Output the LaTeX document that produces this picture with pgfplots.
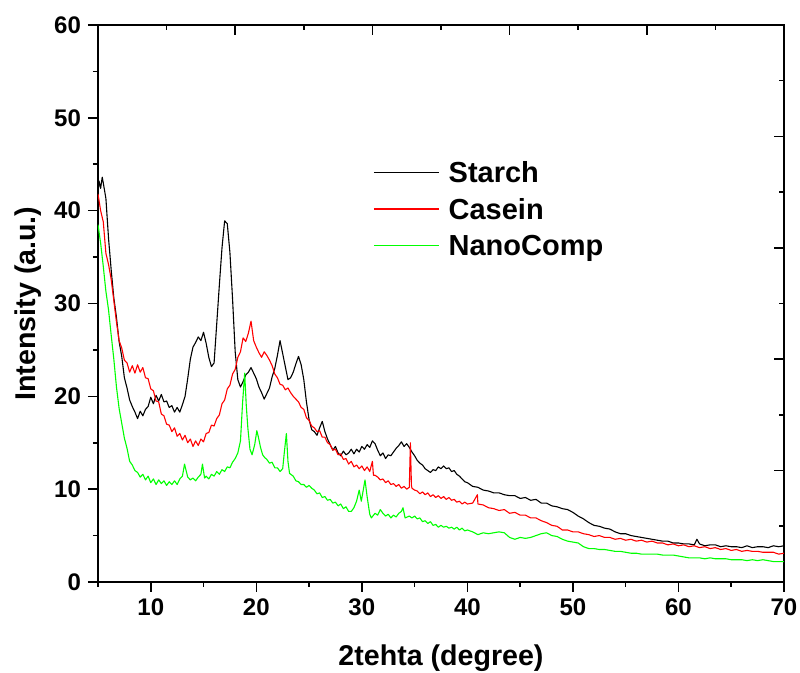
\documentclass[border=0pt]{standalone}
\usepackage{fontspec}
\setmainfont{Liberation Sans}
\usepackage{pgfplots}
\pgfplotsset{compat=1.18}
\definecolor{ored}{RGB}{255,0,0}
\definecolor{ogreen}{RGB}{0,255,0}

\begin{document}
\begin{tikzpicture}
\useasboundingbox (-49pt,-45.5pt) rectangle (351pt,291pt);
% mirror axis: top and right ticks point inward
\begin{axis}[
  scale only axis, width=343pt, height=278.5pt,
  xmin=5, xmax=70, ymin=0, ymax=60,
  xtick={18,31,44,57}, minor xtick={11.5,24.5,37.5,50.5,63.5},
  ytick={12,24,36,48}, minor ytick={6,18,30,42,54},
  xtick pos=right, ytick pos=right,
  xticklabels={}, yticklabels={},
  tick align=inside,
  major tick length=5pt, minor tick length=2.5pt,
  axis line style={line width=0.8pt},
  every tick/.style={black, line width=0.8pt},
]
\end{axis}
\begin{axis}[
  scale only axis, width=343pt, height=278.5pt,
  xmin=5, xmax=70, ymin=0, ymax=60,
  xtick={10,20,...,70}, minor xtick={5,15,...,65},
  ytick={0,10,...,60}, minor ytick={5,15,...,55},
  xtick pos=left, ytick pos=left,
  tick align=outside,
  major tick length=5pt, minor tick length=2.5pt,
  axis line style={line width=0.8pt},
  major tick style={black, line width=0.8pt},
  minor tick style={black, line width=0.8pt},
  /pgf/number format/assume math mode=true,
  ticklabel style={font=\bfseries\fontsize{12}{14}\selectfont},
  xlabel={2tehta (degree)}, ylabel={Intensity (a.u.)},
  label style={font=\bfseries\fontsize{14.3}{16}\selectfont, inner sep=0pt},
  xlabel style={at={(axis description cs:0.5,0)}, anchor=center, yshift=-38pt},
  ylabel style={at={(axis description cs:0,0.5)}, anchor=center, yshift=35pt},
  legend style={draw=none, fill=none, inner sep=0pt, outer sep=0pt,
    at={(axis description cs:0.401,0.7645)}, anchor=north west,
    font=\bfseries\fontsize{14.5}{16}\selectfont,
    nodes={inner sep=0pt, text height=13.4pt, text depth=3pt},
    row sep=1.85pt, column sep=4.5pt},
  legend cell align=left,
  legend image code/.code={\draw[#1, line width=0.8pt] (0pt,0pt) -- (32.5pt,0pt);},
]
\addplot[black, line width=0.55pt, line join=round] table {
x y
5.00 42.0
5.10 43.2
5.25 42.4
5.40 43.6
5.50 43.0
5.75 41.3
6.00 37.0
6.25 33.6
6.50 30.6
6.75 28.5
7.00 25.9
7.25 24.3
7.50 22.0
7.75 20.9
8.00 19.6
8.25 18.9
8.50 18.3
8.75 17.6
9.00 18.4
9.25 17.9
9.50 18.6
9.75 18.9
10.00 19.9
10.25 19.2
10.50 20.1
10.75 19.5
11.00 20.2
11.25 19.4
11.50 19.5
11.75 18.8
12.00 19.0
12.25 18.3
12.50 18.8
12.75 18.3
13.00 19.1
13.25 20.0
13.50 21.9
13.75 24.0
14.00 25.3
14.25 25.8
14.50 26.4
14.75 26.0
15.00 26.9
15.25 25.7
15.50 24.2
15.75 23.2
16.00 23.6
16.25 27.8
16.50 32.0
16.75 36.0
17.00 38.9
17.25 38.6
17.50 35.5
17.75 30.5
18.00 24.8
18.25 21.8
18.50 21.0
18.75 21.6
19.00 22.3
19.25 22.6
19.50 23.1
19.75 22.5
20.00 21.9
20.25 21.0
20.50 20.4
20.75 19.7
21.00 20.3
21.25 20.9
21.50 22.1
21.75 23.0
22.00 24.4
22.25 26.0
22.50 24.6
22.75 23.2
23.00 21.8
23.25 22.0
23.50 22.6
23.75 23.5
24.00 24.3
24.25 23.4
24.50 21.8
24.75 19.4
25.00 17.5
25.25 16.4
25.50 16.2
25.75 15.8
26.00 16.6
26.25 17.3
26.50 16.2
26.75 15.4
27.00 14.8
27.25 14.2
27.50 14.6
27.75 13.9
28.00 13.6
28.25 14.1
28.50 13.7
28.75 13.9
29.00 14.3
29.25 13.8
29.50 14.3
29.75 14.0
30.00 14.6
30.25 14.3
30.50 14.8
30.75 14.5
31.00 15.2
31.25 14.9
31.50 14.2
31.75 13.6
32.00 13.9
32.25 13.3
32.50 13.7
32.75 13.6
33.00 14.0
33.25 14.4
33.50 14.7
33.75 15.1
34.00 14.6
34.25 14.9
34.50 14.5
34.75 14.0
35.00 13.6
35.25 13.1
35.50 12.8
35.75 12.6
36.00 12.2
36.25 12.0
36.50 11.8
36.75 12.1
37.00 12.0
37.25 12.4
37.50 12.2
37.75 12.5
38.00 12.2
38.25 12.3
38.50 11.9
38.75 12.0
39.00 11.6
39.25 11.4
39.50 11.1
39.75 10.8
40.00 10.7
40.50 10.3
41.00 10.2
41.50 9.9
42.00 9.8
42.50 9.6
43.00 9.6
43.50 9.4
44.00 9.3
44.50 9.3
45.00 9.0
45.50 9.1
46.00 8.8
46.50 8.9
47.00 8.5
47.50 8.5
48.00 8.2
48.50 8.1
49.00 7.9
49.50 7.8
50.00 7.5
50.50 7.1
51.00 6.8
51.50 6.4
52.00 6.1
52.50 6.0
53.00 5.8
53.50 5.7
54.00 5.4
54.50 5.2
55.00 5.2
55.50 5.0
56.00 4.9
56.50 4.8
57.00 4.7
57.50 4.6
58.00 4.5
58.50 4.4
59.00 4.4
59.50 4.2
60.00 4.2
60.50 4.1
61.00 4.1
61.50 4.0
61.75 4.6
62.00 4.1
62.50 3.9
63.00 4.0
63.50 4.0
64.00 3.8
64.50 3.9
65.00 3.8
65.50 3.8
66.00 3.7
66.50 3.9
67.00 3.7
67.50 3.8
68.00 3.8
68.50 3.7
69.00 3.9
69.50 3.8
70.00 3.9
};
\addlegendentry{Starch}
\addplot[ored, line width=0.55pt, line join=round] table {
x y
5.00 41.8
5.25 40.0
5.50 38.8
5.75 35.4
6.00 34.2
6.25 32.6
6.50 30.3
6.75 28.0
7.00 26.0
7.25 25.2
7.50 23.9
7.75 23.6
8.00 22.6
8.25 23.3
8.50 22.5
8.75 23.4
9.00 22.6
9.25 23.1
9.50 22.0
9.75 21.9
10.00 20.8
10.25 20.6
10.50 19.5
10.75 19.4
11.00 18.1
11.25 17.9
11.50 17.0
11.75 16.9
12.00 16.2
12.25 16.6
12.50 15.7
12.75 16.0
13.00 15.3
13.25 15.8
13.50 15.0
13.75 15.4
14.00 14.6
14.25 15.2
14.50 14.7
14.75 15.4
15.00 15.1
15.25 16.0
15.50 16.1
15.75 16.9
16.00 16.8
16.25 17.6
16.50 18.0
16.75 19.2
17.00 19.6
17.25 20.8
17.50 21.2
17.75 22.4
18.00 22.9
18.25 24.2
18.50 24.8
18.75 26.3
19.00 25.9
19.25 26.8
19.50 28.1
19.75 26.0
20.00 25.3
20.25 24.7
20.50 24.2
20.75 24.8
21.00 24.4
21.25 23.9
21.50 23.3
21.75 22.4
22.00 22.0
22.25 21.3
22.50 21.2
22.75 20.7
23.00 20.9
23.25 20.4
23.50 20.0
23.75 19.7
24.00 19.4
24.25 18.8
24.50 18.6
24.75 17.7
25.00 17.4
25.25 16.8
25.50 16.6
25.75 16.2
26.00 16.3
26.25 15.6
26.50 15.6
26.75 15.0
27.00 14.8
27.25 14.2
27.50 14.3
27.75 13.7
28.00 13.8
28.25 13.2
28.50 13.3
28.75 12.7
29.00 13.0
29.25 12.4
29.50 12.6
29.75 12.2
30.00 12.5
30.25 12.0
30.50 12.4
30.75 11.9
31.00 13.0
31.10 11.5
31.25 11.5
31.50 11.3
31.75 11.0
32.00 11.1
32.25 10.7
32.50 10.9
32.75 10.5
33.00 10.6
33.25 10.3
33.50 10.5
33.75 10.1
34.00 10.3
34.25 10.0
34.50 10.2
34.60 15.0
34.70 10.4
34.75 10.1
35.00 9.9
35.25 9.8
35.50 9.5
35.75 9.7
36.00 9.4
36.25 9.6
36.50 9.2
36.75 9.4
37.00 9.1
37.25 9.3
37.50 9.0
37.75 9.2
38.00 8.9
38.25 9.1
38.50 8.8
38.75 8.9
39.00 8.6
39.25 8.7
39.50 8.4
39.75 8.6
40.00 8.4
40.50 8.5
40.95 9.4
41.00 8.4
41.50 8.3
42.00 8.0
42.50 7.9
43.00 7.7
43.50 7.8
44.00 7.4
44.50 7.5
45.00 7.2
45.50 7.2
46.00 6.9
46.50 6.9
47.00 6.6
47.50 6.4
48.00 6.1
48.50 6.0
49.00 5.6
49.50 5.6
50.00 5.4
50.50 5.4
51.00 5.2
51.50 5.1
52.00 4.9
52.50 5.0
53.00 4.8
53.50 4.8
54.00 4.6
54.50 4.7
55.00 4.5
55.50 4.6
56.00 4.4
56.50 4.5
57.00 4.3
57.50 4.4
58.00 4.2
58.50 4.2
59.00 4.0
59.50 4.1
60.00 3.9
60.50 4.0
61.00 3.8
61.50 3.9
62.00 3.7
62.50 3.8
63.00 3.6
63.50 3.7
64.00 3.5
64.50 3.6
65.00 3.4
65.50 3.5
66.00 3.3
66.50 3.4
67.00 3.3
67.50 3.3
68.00 3.2
68.50 3.2
69.00 3.2
69.50 3.0
70.00 3.1
};
\addlegendentry{Casein}
\addplot[ogreen, line width=0.55pt, line join=round] table {
x y
5.00 38.5
5.25 36.5
5.50 34.0
5.75 31.3
6.00 29.3
6.25 26.6
6.50 24.0
6.75 21.0
7.00 18.7
7.25 17.1
7.50 15.5
7.75 14.4
8.00 13.0
8.25 12.6
8.50 12.0
8.75 11.8
9.00 11.3
9.25 11.6
9.50 11.0
9.75 11.4
10.00 10.7
10.25 11.1
10.50 10.5
10.75 11.0
11.00 10.6
11.25 10.9
11.50 10.4
11.75 10.8
12.00 10.5
12.25 10.9
12.50 10.5
12.75 11.1
13.00 11.4
13.20 12.7
13.50 11.3
13.75 11.0
14.00 11.2
14.25 10.9
14.50 11.3
14.75 11.6
14.90 12.7
15.10 11.2
15.25 11.4
15.50 11.1
15.75 11.6
16.00 11.4
16.25 11.9
16.50 11.6
16.75 12.1
17.00 11.9
17.25 12.4
17.50 12.3
17.75 12.9
18.00 13.3
18.25 13.9
18.50 15.2
18.70 19.3
18.90 22.5
19.05 19.0
19.20 16.6
19.40 14.3
19.60 13.7
19.85 14.8
20.05 16.3
20.20 15.6
20.40 14.5
20.60 13.7
20.80 13.4
21.00 13.2
21.25 12.8
21.50 12.9
21.75 12.3
22.00 12.3
22.25 11.9
22.50 12.2
22.65 13.9
22.85 16.0
23.00 13.0
23.15 11.7
23.50 11.4
23.75 10.9
24.00 10.8
24.25 10.5
24.50 10.5
24.75 10.2
25.00 10.4
25.25 10.1
25.50 9.9
25.75 9.5
26.00 9.6
26.25 9.1
26.50 9.2
26.75 8.8
27.00 8.9
27.25 8.5
27.50 8.6
27.75 8.2
28.00 8.4
28.25 7.9
28.50 8.1
28.75 7.6
29.00 7.6
29.25 8.0
29.50 8.7
29.75 9.9
29.95 8.7
30.15 10.0
30.30 11.0
30.50 9.2
30.75 7.3
30.90 6.9
31.25 7.4
31.50 7.2
31.75 7.8
32.00 7.4
32.25 7.1
32.50 7.3
32.75 6.9
33.00 7.2
33.25 7.0
33.50 7.4
33.75 7.6
33.90 8.0
34.10 6.9
34.50 7.1
34.75 6.9
35.00 7.1
35.25 6.8
35.50 6.9
35.75 6.5
36.00 6.6
36.25 6.3
36.50 6.5
36.75 6.1
37.00 6.2
37.25 5.9
37.50 6.1
37.75 5.9
38.00 6.0
38.25 5.8
38.50 5.9
38.75 5.7
39.00 5.9
39.25 5.6
39.50 5.8
39.75 5.5
40.00 5.6
40.50 5.4
41.00 5.1
41.50 5.3
42.00 5.2
42.50 5.3
43.00 5.4
43.50 5.3
44.00 4.8
44.50 4.6
45.00 4.8
45.50 4.7
46.00 4.8
46.50 5.0
47.00 5.2
47.50 5.3
48.00 5.0
48.50 4.9
49.00 4.6
49.50 4.4
50.00 4.3
50.50 4.2
51.00 3.8
51.50 3.6
52.00 3.6
52.50 3.5
53.00 3.5
53.50 3.4
54.00 3.3
54.50 3.3
55.00 3.2
55.50 3.1
56.00 3.1
56.50 3.0
57.00 3.0
57.50 3.0
58.00 3.0
58.50 2.9
59.00 2.9
59.50 2.9
60.00 2.8
60.50 2.7
61.00 2.6
61.50 2.6
62.00 2.6
62.50 2.5
63.00 2.6
63.50 2.5
64.00 2.5
64.50 2.5
65.00 2.4
65.50 2.4
66.00 2.4
66.50 2.3
67.00 2.4
67.50 2.3
68.00 2.4
68.50 2.3
69.00 2.2
69.50 2.2
70.00 2.2
};
\addlegendentry{NanoComp}
\end{axis}
\end{tikzpicture}
\end{document}
